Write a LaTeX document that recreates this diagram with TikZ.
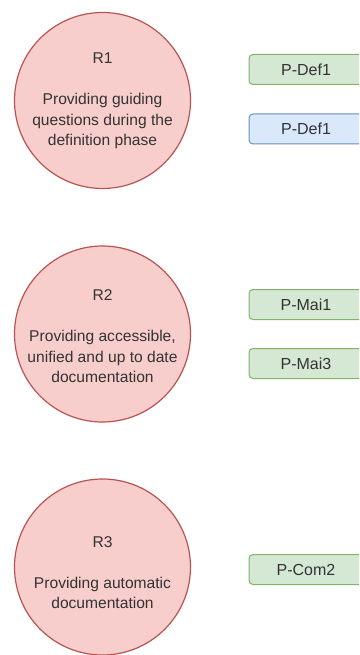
\documentclass[tikz,border=0pt]{standalone}
\usepackage{fontspec}
\setmainfont{Liberation Sans}
\definecolor{reqfill}{HTML}{F8CECC}
\definecolor{reqdraw}{HTML}{B85450}
\definecolor{gfill}{HTML}{D5E8D4}
\definecolor{gdraw}{HTML}{82B366}
\definecolor{bfill}{HTML}{DAE8FC}
\definecolor{bdraw}{HTML}{6C8EBF}
\definecolor{txt}{HTML}{333333}
\begin{document}
\begin{tikzpicture}[x=1pt,y=-1pt,
  req/.style={circle, draw=reqdraw, fill=reqfill, line width=1.2pt, minimum size=176pt, inner sep=0pt},
  reqtext/.style={align=center, text=txt, font=\fontsize{15.6}{20.5}\selectfont, inner sep=0pt},
  pbox/.style={rounded corners=4pt, line width=1pt, minimum width=114pt, minimum height=30pt, inner sep=0pt, text=txt, font=\fontsize{16}{19}\selectfont},
  pgreen/.style={pbox, draw=gdraw, fill=gfill},
  pblue/.style={pbox, draw=bdraw, fill=bfill}]
\useasboundingbox (0,0) rectangle (359,655);
\fill[white] (0,0) rectangle (359,655);
\clip (0,0) rectangle (359,655);
\node[req] (r1) at (102.5,100.5) {};
\node[reqtext] (r1t) at (102.5,101) {R1\\[20.5pt]Providing guiding\\questions during the\\definition phase};
\node[req] (r2) at (102.5,334) {};
\node[reqtext] (r2t) at (102.5,336.5) {R2\\[20.5pt]Providing accessible,\\unified and up to date\\documentation};
\node[req] (r3) at (102.5,567) {};
\node[reqtext] (r3t) at (102.5,572.5) {R3\\[20.5pt]Providing automatic\\documentation};
\node[pgreen] (pdef1a) at (306,69.5) {P-Def1};
\node[pblue] (pdef1b) at (306,129) {P-Def1};
\node[pgreen] (pmai1) at (306,304.5) {P-Mai1};
\node[pgreen] (pmai3) at (306,363.5) {P-Mai3};
\node[pgreen] (pcom2) at (306,569.5) {P-Com2};
\end{tikzpicture}
\end{document}
